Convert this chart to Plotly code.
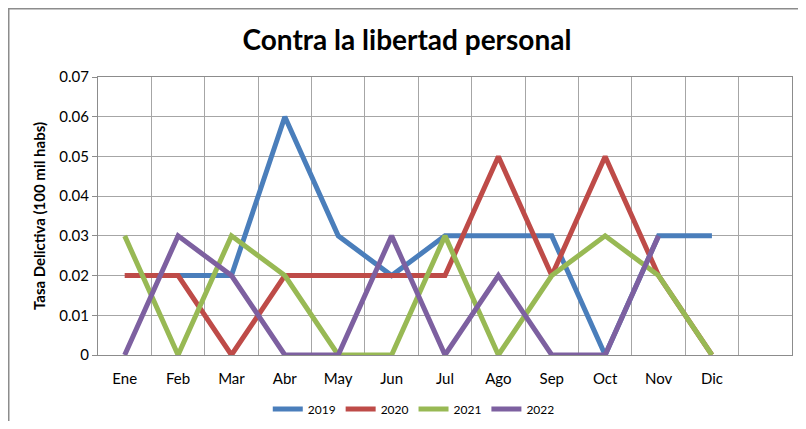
import plotly.graph_objects as go

months = ["Ene", "Feb", "Mar", "Abr", "May", "Jun", "Jul", "Ago", "Sep", "Oct", "Nov", "Dic"]
s2019 = [None, 0.02, 0.02, 0.06, 0.03, 0.02, 0.03, 0.03, 0.03, 0.0, 0.03, 0.03]
s2020 = [0.02, 0.02, 0.0, 0.02, 0.02, 0.02, 0.02, 0.05, 0.02, 0.05, 0.02, 0.0]
s2021 = [0.03, 0.0, 0.03, 0.02, 0.0, 0.0, 0.03, 0.0, 0.02, 0.03, 0.02, 0.0]
s2022 = [0.0, 0.03, 0.02, 0.0, 0.0, 0.03, 0.0, 0.02, 0.0, 0.0, 0.03, None]

series = [("2019", s2019, "#4A7EBB"), ("2020", s2020, "#BE4B48"),
          ("2021", s2021, "#98B954"), ("2022", s2022, "#7D60A0")]

FONT = "Lato, 'Open Sans', sans-serif"

fig = go.Figure()
for name, vals, col in series:
    fig.add_trace(go.Scatter(x=months, y=vals, name=name, mode="lines",
                             line=dict(color=col, width=5), connectgaps=False))

fig.update_layout(
    width=790, height=413,
    margin=dict(l=90, r=6, t=69, b=66, autoexpand=False),
    paper_bgcolor="white", plot_bgcolor="white",
    font=dict(family=FONT, color="black"),
    title=dict(text="<b>Contra la libertad personal</b>", x=0.505, xanchor="center",
               y=0.9225, yanchor="middle", font=dict(size=28, family=FONT)),
    showlegend=True,
    legend=dict(orientation="h", x=0.455, xanchor="center", y=-0.194, yanchor="middle",
                font=dict(size=12, family=FONT), itemwidth=30, tracegroupgap=0),
    shapes=[dict(type="rect", xref="paper", yref="paper",
                 x0=-0.1286, x1=1.03, y0=-0.5, y1=1.2455,
                 line=dict(color="#8C8C8C", width=1.5), fillcolor="rgba(0,0,0,0)", layer="below")],
)

fig.update_xaxes(type="category", categoryorder="array", categoryarray=months,
                 range=[-0.5, 12.5], tickson="boundaries", showgrid=True,
                 gridcolor="#A6A6A6", gridwidth=1.3, showline=True, mirror=True,
                 linecolor="#8C8C8C", linewidth=1.3, ticks="", ticklabelstandoff=10,
                 tickfont=dict(size=15, family=FONT), zeroline=False, automargin=False)
fig.update_yaxes(range=[0, 0.07], dtick=0.01, tickformat=".2~f",
                 showgrid=True, gridcolor="#A6A6A6", gridwidth=1.3,
                 showline=True, mirror=True, linecolor="#8C8C8C", linewidth=1.3,
                 ticks="outside", ticklen=5, tickcolor="#8C8C8C",
                 tickfont=dict(size=15, family=FONT), zeroline=False, automargin=False,
                 title=dict(text="<b>Tasa Delictiva (100 mil habs)</b>",
                            font=dict(size=15, family=FONT), standoff=9))

fig.write_html("out.html")
